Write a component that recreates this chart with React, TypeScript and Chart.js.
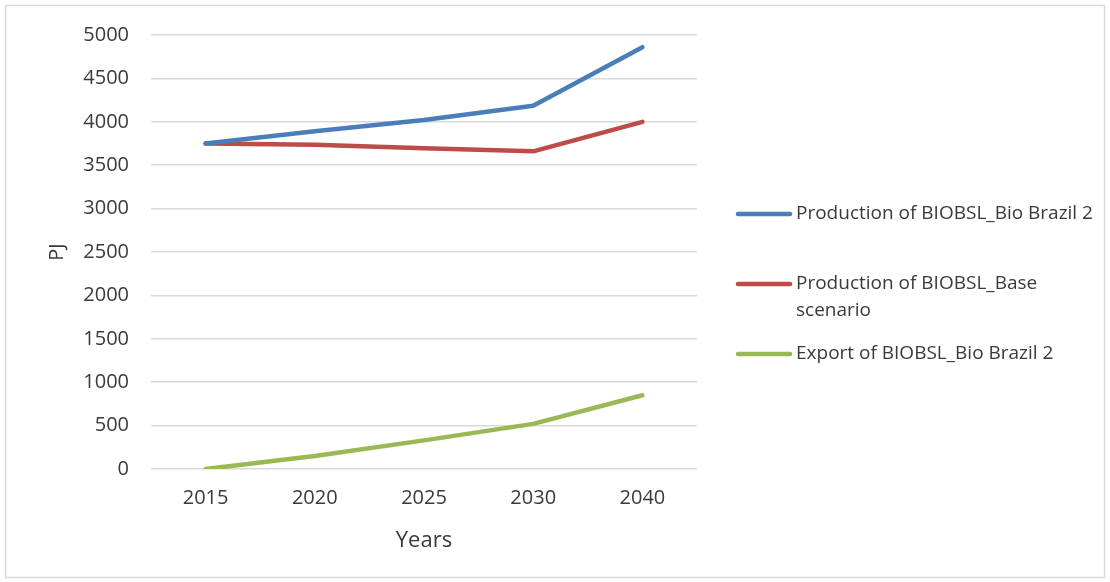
import { useEffect, useRef } from "react";
import { Chart, registerables } from "chart.js";

Chart.register(...registerables);

// Categories (years) and the three series in PJ
const years = ["2015", "2020", "2025", "2030", "2040"];
const productionBioBrazil2 = [3750, 3890, 4020, 4185, 4860];
const productionBaseScenario = [3750, 3735, 3695, 3660, 4000];
const exportBioBrazil2 = [0, 150, 330, 520, 850];

const seriesLabels = [
  "Production of BIOBSL_Bio Brazil 2",
  "Production of BIOBSL_Base scenario",
  "Export of BIOBSL_Bio Brazil 2",
];
// Legend text as it wraps in the side legend
const legendLines = [
  ["Production of BIOBSL_Bio Brazil 2"],
  ["Production of BIOBSL_Base", "scenario"],
  ["Export of BIOBSL_Bio Brazil 2"],
];
const seriesColors = ["#4a7ebb", "#be4b48", "#98b954"];

const yTicks = { min: 0, max: 5000, step: 500 };

const FONT = '"Open Sans", "Noto Sans", sans-serif';
const TEXT = "#3a3a3a";

// Light frame around the whole chart
const framePlugin = {
  id: "frame",
  beforeDraw(chart: any) {
    const ctx = chart.ctx;
    ctx.save();
    ctx.fillStyle = "#ffffff";
    ctx.fillRect(0, 0, chart.width, chart.height);
    ctx.strokeStyle = "#d9d9d9";
    ctx.lineWidth = 1.5;
    ctx.strokeRect(5.5, 5.5, chart.width - 11, chart.height - 10);
    ctx.restore();
  },
};

// Legend drawn to the right of the plot, with wrapped labels
const sideLegendPlugin = {
  id: "sideLegend",
  afterDraw(chart: any) {
    const ctx = chart.ctx;
    const rowY = [214, 284, 354];
    const lineH = 27;
    const swatchX0 = 738;
    const swatchX1 = 790;
    const textX = 796;
    ctx.save();
    ctx.font = `19px ${FONT}`;
    ctx.textBaseline = "middle";
    ctx.textAlign = "left";
    chart.data.datasets.forEach((ds: any, i: number) => {
      const y = rowY[i];
      ctx.strokeStyle = ds.borderColor;
      ctx.lineWidth = 4.5;
      ctx.lineCap = "round";
      ctx.beginPath();
      ctx.moveTo(swatchX0, y);
      ctx.lineTo(swatchX1, y);
      ctx.stroke();
      ctx.fillStyle = TEXT;
      legendLines[i].forEach((t, j) => ctx.fillText(t, textX, y + j * lineH));
    });
    ctx.restore();
  },
};

export default function App() {
  const canvasRef = useRef<HTMLCanvasElement | null>(null);

  useEffect(() => {
    if (!canvasRef.current) return;
    const series = [productionBioBrazil2, productionBaseScenario, exportBioBrazil2];
    const chart = new Chart(canvasRef.current, {
      type: "line",
      data: {
        labels: years,
        datasets: series.map((values, i) => ({
          label: seriesLabels[i],
          data: values,
          borderColor: seriesColors[i],
          backgroundColor: seriesColors[i],
          borderWidth: 4.5,
          borderCapStyle: "round",
          borderJoinStyle: "round",
          pointRadius: 0,
          tension: 0,
          fill: false,
        })),
      },
      options: {
        responsive: false,
        animation: false,
        layout: { padding: { top: 35, right: 413, bottom: 0, left: 0 } },
        plugins: {
          legend: { display: false },
          tooltip: { enabled: false },
        },
        scales: {
          x: {
            type: "category",
            offset: true,
            grid: { display: false, drawTicks: false },
            border: { display: false },
            ticks: { color: TEXT, font: { family: FONT, size: 20 }, padding: 17 },
            title: {
              display: true,
              text: "Years",
              color: TEXT,
              font: { family: FONT, size: 22 },
              padding: { top: 0, bottom: 28 },
            },
            afterFit(scale: any) {
              scale.height = 113;
            },
          },
          y: {
            min: yTicks.min,
            max: yTicks.max,
            ticks: {
              stepSize: yTicks.step,
              color: TEXT,
              font: { family: FONT, size: 20 },
              padding: 22,
              callback: (v: any) => String(v),
            },
            grid: { color: "#d9d9d9", lineWidth: 1.5, drawTicks: false },
            border: { display: false },
            title: {
              display: true,
              text: "PJ",
              color: TEXT,
              font: { family: FONT, size: 20 },
              padding: { top: 45, bottom: 0 },
            },
            afterFit(scale: any) {
              scale.width = 151;
            },
          },
        },
      },
      plugins: [framePlugin, sideLegendPlugin],
    } as any);
    return () => chart.destroy();
  }, []);

  return (
    <div style={{ position: "absolute", left: 0, top: 0, width: 1110, height: 582 }}>
      <canvas ref={canvasRef} width={1110} height={582} style={{ width: 1110, height: 582, display: "block" }} />
    </div>
  );
}
